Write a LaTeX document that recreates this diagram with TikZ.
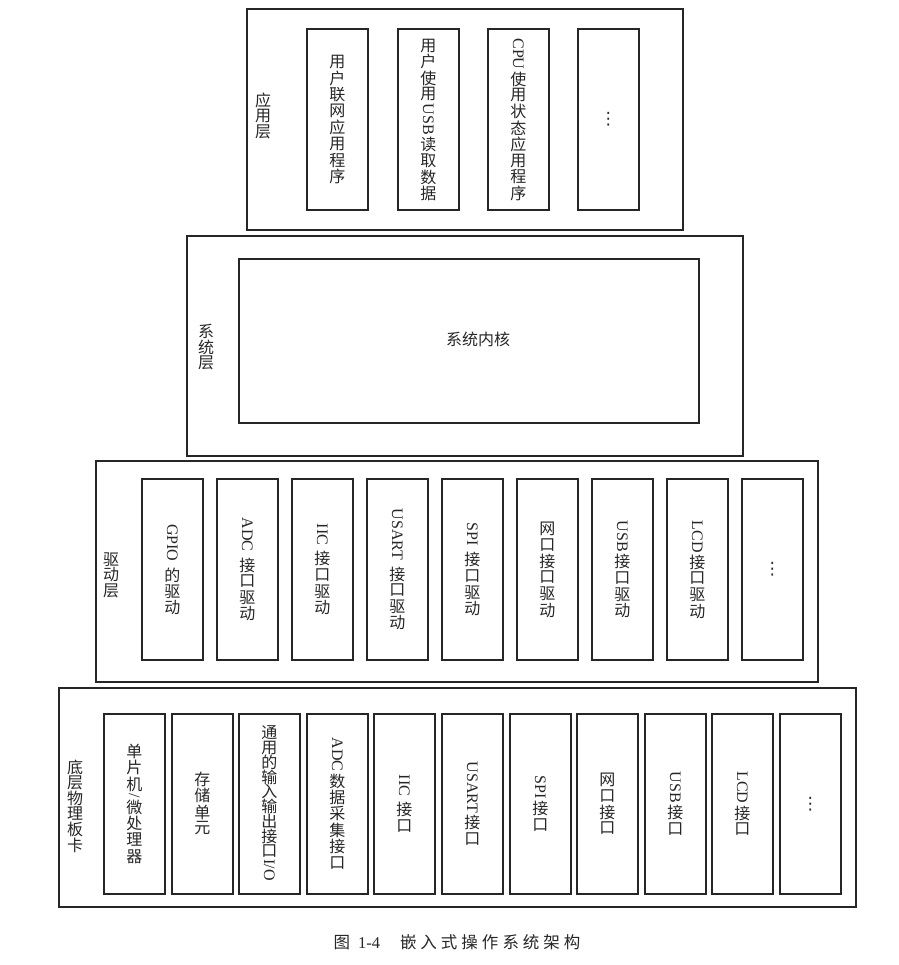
\documentclass[tikz,border=0pt]{standalone}
\usepackage{fontspec}
\usepackage{graphicx}
\setmainfont{Liberation Serif}
\newfontfamily\cjk{Noto Sans CJK SC}
\newfontfamily\dv{DejaVu Sans}
\newlength\pitch
\setlength\pitch{16.3pt}
\newcommand\Cc[1]{\hbox to 22pt{\hss\vbox to \pitch{\vss\hbox{#1}\vss}\hss}}
\newcommand\Lr[1]{\vskip1pt\hbox to 22pt{\hss\rotatebox{-90}{\rmfamily #1}\hss}\vskip1.5pt}
\makeatletter
\newcommand\cs[1]{\@tfor\my@ch:=#1\do{\Cc{\my@ch}}}
\makeatother
\newcommand\vtext[1]{\vbox{\offinterlineskip #1}}
\newcommand\vdts{{\dv\fontsize{17}{17}\selectfont ⋮}}
\tikzset{
  layer/.style={draw=black!85, line width=1.8pt, anchor=north west, inner sep=0pt},
  cell/.style={draw=black!85, line width=1.8pt, anchor=north west, inner sep=0pt,
    minimum width=61, text=black!85, font=\cjk\fontsize{16}{16}\selectfont},
  lbl/.style={inner sep=0pt, text=black!85, font={\cjk\fontsize{16}{16}\selectfont\setlength\pitch{15.6pt}}},
}
\begin{document}
\begin{tikzpicture}[x=1pt,y=-1pt]
\useasboundingbox (0,0) rectangle (898,965);
% layers
\node[layer, minimum width=436, minimum height=221] (app) at (246,8) {};
\node[layer, minimum width=556, minimum height=220] (sys) at (186,235) {};
\node[layer, minimum width=722, minimum height=221] (drv) at (95,460) {};
\node[layer, minimum width=797, minimum height=219] (hw) at (58,687) {};
% layer labels
\node[lbl] (appl) at (263,116) {\vtext{\cs{应用层}}};
\node[lbl] (sysl) at (206,347) {\vtext{\cs{系统层}}};
\node[lbl] (drvl) at (111,575) {\vtext{\cs{驱动层}}};
\node[lbl] (hwl) at (75,806) {\vtext{\cs{底层物理板卡}}};
% application layer
\node[cell, minimum height=181] (a1) at (306,28) {\vtext{\cs{用户联网应用程序}}};
\node[cell, minimum height=181] (a2) at (397,28) {\vtext{\cs{用户使用}\Lr{USB}\cs{读取数据}}};
\node[cell, minimum height=181] (a3) at (487,28) {\vtext{\Lr{CPU}\cs{使用状态应用程序}}};
\node[cell, minimum height=181] (a4) at (577,28) {\vdts};
% system layer
\node[layer, minimum width=460, minimum height=164] (kernel) at (238,258) {};
\node[inner sep=0pt, text=black!85, font=\cjk\fontsize{16}{16}\selectfont] (kerneltext) at (478,339) {系统内核};
% driver layer
\node[cell, minimum height=181] (d1) at (141,478) {\vtext{\Lr{GPIO\ }\cs{的驱动}}};
\node[cell, minimum height=181] (d2) at (216,478) {\vtext{\Lr{ADC\ }\cs{接口驱动}}};
\node[cell, minimum height=181] (d3) at (291,478) {\vtext{\Lr{IIC\ }\cs{接口驱动}}};
\node[cell, minimum height=181] (d4) at (366,478) {\vtext{\Lr{USART\ }\cs{接口驱动}}};
\node[cell, minimum height=181] (d5) at (441,478) {\vtext{\Lr{SPI\ }\cs{接口驱动}}};
\node[cell, minimum height=181] (d6) at (516,478) {\vtext{\cs{网口接口驱动}}};
\node[cell, minimum height=181] (d7) at (591,478) {\vtext{\Lr{USB}\cs{接口驱动}}};
\node[cell, minimum height=181] (d8) at (666,478) {\vtext{\Lr{LCD}\cs{接口驱动}}};
\node[cell, minimum height=181] (d9) at (741,478) {\vdts};
% hardware layer
\node[cell, minimum height=180] (h1) at (103,713) {\vtext{\cs{单片机}\Lr{/}\cs{微处理器}}};
\node[cell, minimum height=180] (h2) at (171,713) {\vtext{\cs{存储单元}}};
\node[cell, minimum height=180, font={\cjk\fontsize{16}{16}\selectfont\setlength\pitch{14.8pt}}] (h3) at (238,713) {\vtext{\cs{通用的输入输出接口}\Lr{I/O}}};
\node[cell, minimum height=180] (h4) at (306,713) {\vtext{\Lr{ADC}\cs{数据采集接口}}};
\node[cell, minimum height=180] (h5) at (373,713) {\vtext{\Lr{IIC\ }\cs{接口}}};
\node[cell, minimum height=180] (h6) at (441,713) {\vtext{\Lr{USART}\cs{接口}}};
\node[cell, minimum height=180] (h7) at (509,713) {\vtext{\Lr{SPI}\cs{接口}}};
\node[cell, minimum height=180] (h8) at (576,713) {\vtext{\cs{网口接口}}};
\node[cell, minimum height=180] (h9) at (644,713) {\vtext{\Lr{USB}\cs{接口}}};
\node[cell, minimum height=180] (h10) at (711,713) {\vtext{\Lr{LCD}\cs{接口}}};
\node[cell, minimum height=180] (h11) at (779,713) {\vdts};
% caption
\node[inner sep=0pt, text=black!85, font=\cjk\fontsize{16.5}{18}\selectfont] (caption) at (457,942)
  {图\hspace{8pt}{\rmfamily 1-4}\hspace{20pt}嵌\hspace{4pt}入\hspace{4pt}式\hspace{4pt}操\hspace{4pt}作\hspace{4pt}系\hspace{4pt}统\hspace{4pt}架\hspace{4pt}构};
\end{tikzpicture}
\end{document}
